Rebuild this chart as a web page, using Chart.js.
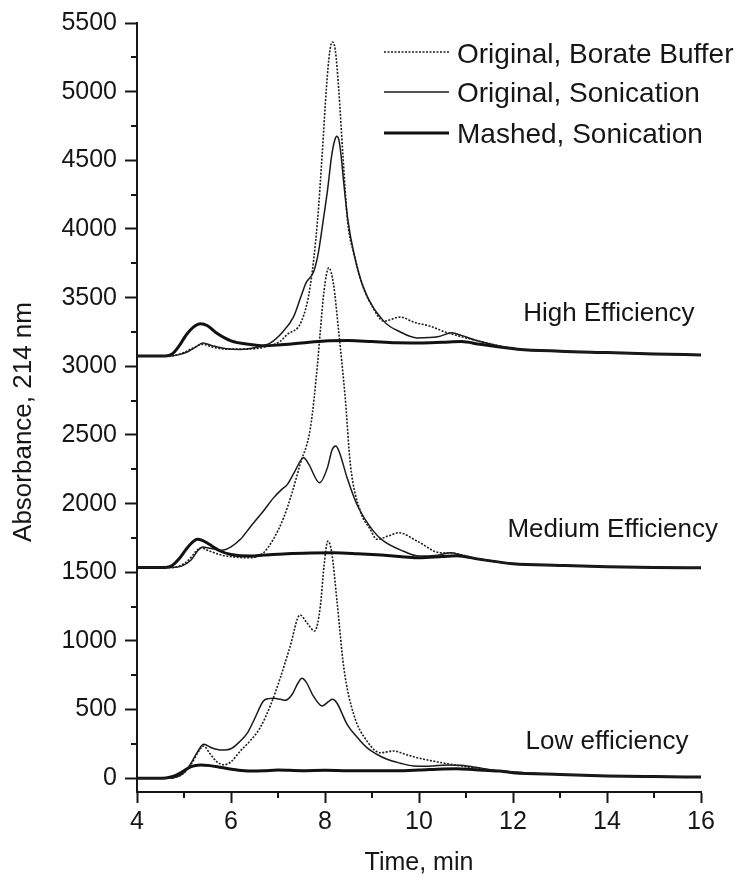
<!DOCTYPE html>
<html>
<head>
<meta charset="utf-8">
<script src="https://cdn.jsdelivr.net/npm/chart.js@4/dist/chart.umd.min.js"></script>
<style>
  html, body { margin: 0; padding: 0; background: #fff; }
  canvas { display: block; }
</style>
</head>
<body>
<canvas id="chart" width="746" height="878"></canvas>
<script>
// Electropherograms at 214 nm, three sample preparations for each separation efficiency.
// Each trace sits on its own baseline (high ~3075, medium ~1535, low ~0).

// ---- High efficiency ----
const highBorateT = [4, 4.6, 4.8, 5.0, 5.2, 5.4, 5.6, 5.9, 6.3, 6.7, 7.05, 7.19, 7.5, 7.68, 7.84, 7.94, 8.03, 8.1, 8.16, 8.22, 8.29, 8.38, 8.48, 8.62, 8.82, 9.0, 9.25, 9.6, 9.9, 10.24, 10.6, 10.8, 11.2, 12.1, 13, 14, 15, 16];
const highBorateY = [3075, 3075, 3080, 3100, 3135, 3160, 3140, 3125, 3125, 3139, 3183, 3230, 3329, 3571, 4057, 4542, 5027, 5290, 5362, 5300, 5027, 4542, 4057, 3814, 3571, 3440, 3329, 3358, 3320, 3292, 3244, 3225, 3190, 3125, 3110, 3100, 3090, 3083];

const highSonicT = [4, 4.7, 4.9, 5.1, 5.25, 5.4, 5.6, 5.9, 6.2, 6.5, 6.84, 7.1, 7.33, 7.5, 7.6, 7.68, 7.76, 7.86, 7.96, 8.06, 8.14, 8.21, 8.255, 8.3, 8.34, 8.41, 8.49, 8.62, 8.82, 9.25, 9.6, 9.96, 10.4, 10.7, 10.9, 11.2, 12.1, 13, 14, 15, 16];
const highSonicY = [3075, 3075, 3085, 3110, 3140, 3169, 3150, 3128, 3122, 3135, 3171, 3250, 3360, 3520, 3610, 3645, 3690, 3830, 4057, 4300, 4530, 4650, 4675, 4640, 4542, 4299, 4057, 3814, 3571, 3329, 3250, 3207, 3215, 3244, 3225, 3190, 3125, 3110, 3100, 3090, 3083];

const highMashedT = [4, 4.6, 4.75, 4.9, 5.05, 5.2, 5.35, 5.5, 5.7, 6.0, 6.41, 6.7, 7.0, 7.5, 8.0, 8.5, 9.0, 9.5, 10.0, 10.5, 10.9, 11.3, 12.1, 13, 14, 15, 16];
const highMashedY = [3075, 3075, 3090, 3150, 3230, 3285, 3309, 3295, 3240, 3185, 3159, 3150, 3155, 3170, 3185, 3188, 3180, 3171, 3170, 3175, 3180, 3160, 3125, 3110, 3100, 3090, 3083];

// ---- Medium efficiency ----
const medBorateT = [4, 4.7, 4.9, 5.1, 5.25, 5.35, 5.5, 5.8, 6.1, 6.41, 6.69, 6.9, 7.12, 7.3, 7.47, 7.69, 7.84, 7.9, 7.98, 8.08, 8.18, 8.29, 8.43, 8.54, 8.75, 8.95, 9.11, 9.35, 9.57, 9.96, 10.45, 10.7, 11.16, 12.0, 13, 14, 15, 16];
const medBorateY = [1535, 1535, 1545, 1590, 1650, 1679, 1660, 1625, 1610, 1606, 1642, 1740, 1897, 2080, 2286, 2552, 3013, 3256, 3550, 3717, 3600, 3256, 2770, 2286, 1946, 1820, 1740, 1765, 1788, 1727, 1642, 1640, 1606, 1562, 1550, 1540, 1535, 1533];

const medSonicT = [4, 4.75, 4.95, 5.15, 5.3, 5.4, 5.55, 5.8, 6.0, 6.2, 6.41, 6.69, 6.9, 7.08, 7.2, 7.35, 7.545, 7.65, 7.885, 8.05, 8.15, 8.226, 8.3, 8.47, 8.68, 9.03, 9.25, 9.66, 10.0, 10.4, 10.67, 10.9, 11.3, 12.0, 13, 14, 15, 16];
const medSonicY = [1535, 1535, 1545, 1590, 1660, 1685, 1675, 1660, 1685, 1740, 1830, 1946, 2040, 2104, 2140, 2230, 2334, 2290, 2152, 2260, 2390, 2419, 2380, 2188, 1994, 1800, 1727, 1655, 1618, 1625, 1642, 1625, 1594, 1562, 1550, 1540, 1535, 1533];

const medMashedT = [4, 4.6, 4.75, 4.9, 5.05, 5.2, 5.28, 5.4, 5.6, 5.77, 6.0, 6.41, 6.7, 7.2, 7.7, 8.2, 8.7, 9.2, 9.7, 10.0, 10.5, 10.8, 11.3, 12.0, 13, 14, 15, 16];
const medMashedY = [1535, 1535, 1550, 1600, 1670, 1725, 1740, 1730, 1690, 1655, 1630, 1618, 1625, 1635, 1640, 1642, 1635, 1625, 1612, 1606, 1615, 1620, 1594, 1562, 1550, 1540, 1535, 1533];

// ---- Low efficiency ----
const lowBorateT = [4, 4.7, 4.85, 5.0, 5.15, 5.3, 5.42, 5.55, 5.7, 5.85, 6.0, 6.2, 6.4, 6.62, 6.85, 7.05, 7.25, 7.47, 7.62, 7.78, 7.9, 7.98, 8.06, 8.14, 8.255, 8.4, 8.61, 8.89, 9.18, 9.46, 9.7, 9.96, 10.3, 10.67, 11.2, 11.73, 12.5, 13, 14, 15, 16];
const lowBorateY = [0, 0, 10, 40, 100, 190, 235, 180, 120, 98, 120, 199, 270, 368, 540, 732, 950, 1189, 1130, 1072, 1250, 1550, 1727, 1650, 1291, 805, 466, 272, 186, 199, 175, 150, 125, 102, 75, 53, 35, 28, 17, 12, 9];

const lowSonicT = [4, 4.7, 4.85, 5.0, 5.15, 5.3, 5.42, 5.6, 5.8, 6.0, 6.2, 6.35, 6.48, 6.69, 6.8, 6.91, 7.05, 7.16, 7.3, 7.42, 7.51, 7.6, 7.75, 7.94, 8.08, 8.16, 8.25, 8.47, 8.68, 8.89, 9.1, 9.32, 9.6, 9.88, 10.2, 10.6, 10.9, 11.2, 11.73, 12.5, 13, 14, 15, 16];
const lowSonicY = [0, 0, 10, 40, 110, 200, 247, 220, 205, 215, 272, 330, 417, 563, 580, 582, 575, 568, 610, 690, 728, 700, 600, 526, 560, 575, 550, 393, 300, 223, 175, 138, 110, 90, 88, 97, 95, 80, 53, 35, 28, 17, 12, 9];

const lowMashedT = [4, 4.55, 4.7, 4.85, 5.0, 5.15, 5.35, 5.55, 5.8, 6.1, 6.41, 6.7, 7.0, 7.5, 8.0, 8.5, 9.0, 9.5, 10.0, 10.5, 10.8, 11.2, 11.7, 12.0, 13, 14, 15, 16];
const lowMashedY = [0, 0, 8, 25, 55, 85, 97, 92, 78, 62, 53, 55, 60, 55, 58, 55, 55, 55, 60, 68, 70, 62, 53, 41, 28, 17, 12, 9];

// ---- Axes, legend and panel labels ----
const xMajorTicks = [4, 6, 8, 10, 12, 14, 16];
const xMinorTicks = [5, 7, 9, 11, 13, 15];
const yMajorTicks = [0, 500, 1000, 1500, 2000, 2500, 3000, 3500, 4000, 4500, 5000, 5500];
const yMinorTicks = [250, 750, 1250, 1750, 2250, 2750, 3250, 3750, 4250, 4750, 5250];

const seriesNames = ['Original, Borate Buffer', 'Original, Sonication', 'Mashed, Sonication'];
const panelLabels = ['High Efficiency', 'Medium Efficiency', 'Low efficiency'];
const panelLabelX = [14.04, 14.12, 14.0];
const panelLabelY = [3383, 1810, 268];

const FONT = "'Liberation Sans', Arial, Helvetica, sans-serif";
const INK = '#161616';

const styles = [
  { borderColor: '#1e1e1e', borderWidth: 1.6, borderDash: [2, 1.5] },
  { borderColor: '#1a1a1a', borderWidth: 1.5, borderDash: [] },
  { borderColor: '#111111', borderWidth: 3, borderDash: [] }
];

function pts(t, y) { return t.map((v, i) => ({ x: v, y: y[i] })); }

const traces = [
  [highBorateT, highBorateY, 0], [highSonicT, highSonicY, 1], [highMashedT, highMashedY, 2],
  [medBorateT, medBorateY, 0], [medSonicT, medSonicY, 1], [medMashedT, medMashedY, 2],
  [lowBorateT, lowBorateY, 0], [lowSonicT, lowSonicY, 1], [lowMashedT, lowMashedY, 2]
];

const datasets = traces.map(([t, y, s]) => Object.assign({
  label: seriesNames[s],
  data: pts(t, y),
  fill: false,
  pointRadius: 0,
  cubicInterpolationMode: 'monotone'
}, styles[s]));

// Short minor ticks, the y title, the panel labels and the legend box.
const decorations = {
  id: 'decorations',
  afterDraw(chart) {
    const { ctx, scales: { x, y }, chartArea } = chart;
    ctx.save();
    ctx.strokeStyle = INK;
    ctx.lineWidth = 2;
    ctx.beginPath();
    xMinorTicks.forEach(v => {
      const px = Math.round(x.getPixelForValue(v));
      ctx.moveTo(px, chartArea.bottom);
      ctx.lineTo(px, chartArea.bottom + 6);
    });
    yMinorTicks.forEach(v => {
      const py = Math.round(y.getPixelForValue(v));
      ctx.moveTo(chartArea.left, py);
      ctx.lineTo(chartArea.left - 6, py);
    });
    ctx.stroke();

    // y-axis title
    ctx.fillStyle = INK;
    ctx.font = `26px ${FONT}`;
    ctx.textAlign = 'center';
    ctx.textBaseline = 'middle';
    ctx.save();
    ctx.translate(24, 422);
    ctx.rotate(-Math.PI / 2);
    ctx.fillText('Absorbance, 214 nm', 0, 0);
    ctx.restore();

    // panel labels
    ctx.font = `26px ${FONT}`;
    panelLabels.forEach((txt, i) => {
      ctx.fillText(txt, x.getPixelForValue(panelLabelX[i]), y.getPixelForValue(panelLabelY[i]));
    });

    // legend
    const rowsY = [52, 92, 133];
    const baseY = [63, 102, 143];
    ctx.font = `28px ${FONT}`;
    ctx.textAlign = 'left';
    ctx.textBaseline = 'alphabetic';
    seriesNames.forEach((name, i) => {
      const st = styles[i];
      ctx.strokeStyle = st.borderColor;
      ctx.lineWidth = st.borderWidth;
      ctx.setLineDash(st.borderDash);
      ctx.beginPath();
      ctx.moveTo(384, rowsY[i]);
      ctx.lineTo(449, rowsY[i]);
      ctx.stroke();
      ctx.setLineDash([]);
      ctx.fillText(name, 457, baseY[i]);
    });
    ctx.restore();
  }
};

new Chart(document.getElementById('chart'), {
  type: 'line',
  data: { datasets },
  options: {
    responsive: false,
    animation: false,
    layout: { padding: { left: 0, right: 45, top: 22, bottom: 0 } },
    plugins: { legend: { display: false }, tooltip: { enabled: false } },
    scales: {
      x: {
        type: 'linear', min: 4, max: 16,
        afterBuildTicks: s => { s.ticks = xMajorTicks.map(v => ({ value: v })); },
        afterFit: s => { s.height = 86; },
        ticks: { font: { family: FONT, size: 25 }, color: INK, padding: 4, maxRotation: 0, autoSkip: false, callback: v => String(v) },
        grid: { drawOnChartArea: false, tickLength: 11, tickWidth: 2, tickColor: INK },
        border: { display: true, color: INK, width: 2 },
        title: { display: true, text: 'Time, min', font: { family: FONT, size: 25 }, color: INK, padding: { top: 0, bottom: 0 } }
      },
      y: {
        type: 'linear', min: -100, max: 5500,
        afterBuildTicks: s => { s.ticks = yMajorTicks.map(v => ({ value: v })); },
        afterFit: s => { s.width = 137; },
        ticks: { font: { family: FONT, size: 25 }, color: INK, padding: 8, autoSkip: false, callback: v => String(v) },
        grid: { drawOnChartArea: false, tickLength: 12, tickWidth: 2, tickColor: INK },
        border: { display: true, color: INK, width: 2 }
      }
    }
  },
  plugins: [decorations]
});
</script>
</body>
</html>
